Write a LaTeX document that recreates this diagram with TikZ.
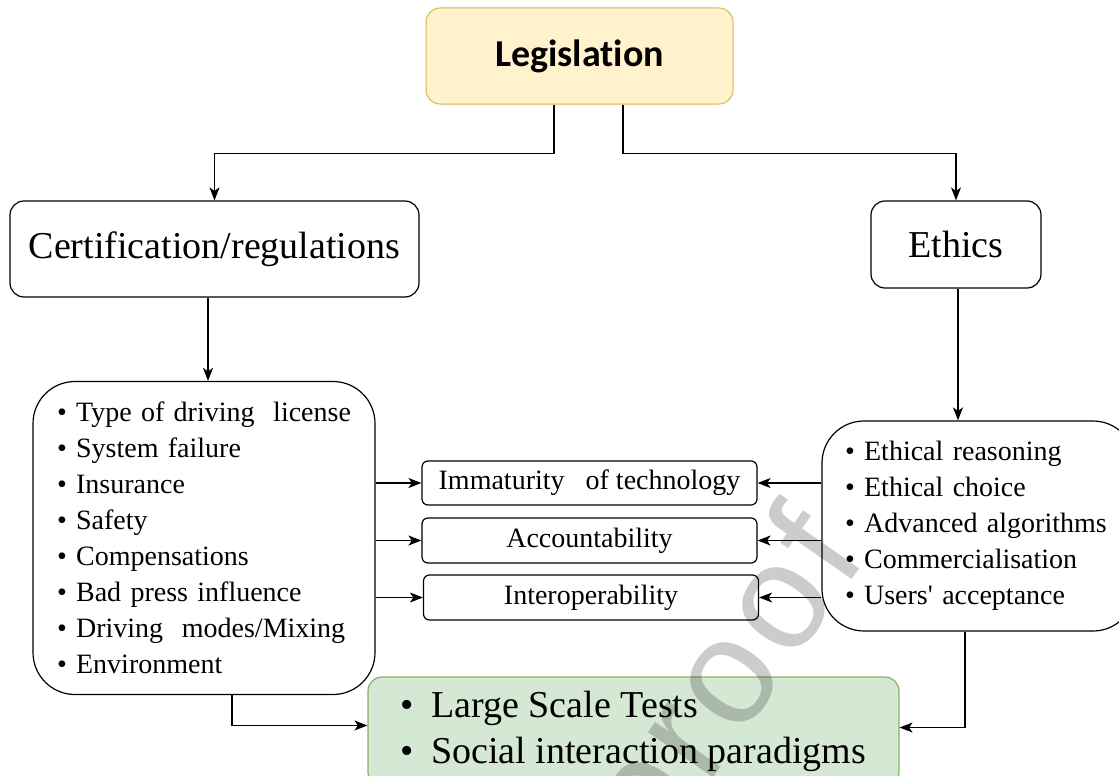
\documentclass[tikz,border=0pt]{standalone}
\usepackage{fontspec}
\setmainfont{Liberation Serif}
\newfontfamily\serifplain{Liberation Serif}
\newfontfamily\legfont{Carlito}[Ligatures=NoCommon]
\newfontfamily\wmfont{Liberation Sans}
\usetikzlibrary{arrows.meta,calc,positioning}
\definecolor{legfill}{HTML}{FFF2CC}
\definecolor{legdraw}{HTML}{D6B656}
\definecolor{testfill}{HTML}{D5E8D4}
\definecolor{testdraw}{HTML}{82B366}

\begin{document}
\begin{tikzpicture}[x=1pt,y=-1pt,
  box/.style={draw,line width=1.2pt,rounded corners=14pt,inner sep=0pt,align=center,font=\fontsize{38}{40}\selectfont},
  listbox/.style={draw,line width=1.2pt,rounded corners=42pt,inner ysep=0pt,align=left,font=\fontsize{28}{36}\selectfont},
  midbox/.style={draw,line width=1.2pt,rounded corners=6pt,inner sep=0pt,minimum width=335pt,font=\fontsize{28}{34}\selectfont},
  arr/.style={line width=1.2pt,-{Stealth[length=13pt,width=10pt,inset=3.5pt]}}]
\useasboundingbox (0,0) rectangle (1119,776);
\clip (0,0) rectangle (1119,776);
% top
\node[box,fill=legfill,draw=legdraw,line width=1pt,minimum width=307pt,minimum height=96pt,
  font=\legfont\bfseries\fontsize{38}{40}\selectfont] (leg) at (579.5,56) {Legislation};
\node[box,minimum width=409pt,minimum height=96pt] (cert) at (214.5,249) {Certification/regulations};
\node[box,minimum width=170pt,minimum height=87pt] (eth) at (956,244.5) {Ethics};
% lists
\node[listbox,minimum width=342pt,minimum height=313pt,inner xsep=24pt,text width=294pt] (reg) at (204,538)
  {• Type of driving\ \ license\\ • System failure\\ • Insurance\\ • Safety\\ • Compensations\\
   • Bad press influence\\ • Driving\ \ modes/Mixing\\ • Environment};
\node[listbox,minimum width=313pt,minimum height=210pt,inner xsep=23pt,text width=267pt,
  font=\serifplain\fontsize{28}{36}\selectfont] (ethl) at (978.5,526)
  {• Ethical reasoning\\ • Ethical choice\\ • Advanced algorithms\\ • Commercialisation\\ • Users' acceptance};
% middle
\node[midbox,minimum height=44pt] (imm) at (589.5,483) {Immaturity\ \ \ of technology};
\node[midbox,minimum height=45pt] (acc) at (589.5,540.5) {Accountability};
\node[midbox,minimum height=45pt] (intop) at (591,597.5) {Interoperability};
% bottom
\node[draw=testdraw,fill=testfill,line width=1.2pt,rounded corners=14pt,minimum width=531pt,minimum height=109pt,
  inner sep=0pt,align=left,font=\fontsize{38}{46}\selectfont] (tests) at (633.5,731.5)
  {•\hspace{0.45em}Large Scale Tests\\ •\hspace{0.45em}Social interaction paradigms};
% connectors
\draw[arr] ([xshift=-25.5pt]leg.south) -- ++(0,49) -| (cert.north);
\draw[arr] ([xshift=43.5pt]leg.south) -- ++(0,49) -| (eth.north);
\draw[arr] ([xshift=-6.5pt]cert.south) -- ([xshift=-6.5pt]cert.south |- reg.north);
\draw[arr] ([xshift=2pt]eth.south) -- ([xshift=2pt]eth.south |- ethl.north);
\foreach \b in {imm,acc,intop}{
  \draw[arr] (reg.east |- \b.west) -- (\b.west);
  \draw[arr] (ethl.west |- \b.east) -- (\b.east);}
\draw[arr] ([xshift=28pt]reg.south) |- ([yshift=6pt]tests.west);
\draw[arr] ([xshift=-13.5pt]ethl.south) |- ([yshift=4pt]tests.east);
% watermark
\node[font=\wmfont\fontsize{150}{150}\selectfont,text=black,opacity=0.2,rotate=55] (wm) at (730,686)
  {p\kern0.05em r\kern0.05em o\kern0.05em o\kern0.05em f};
\end{tikzpicture}
\end{document}
